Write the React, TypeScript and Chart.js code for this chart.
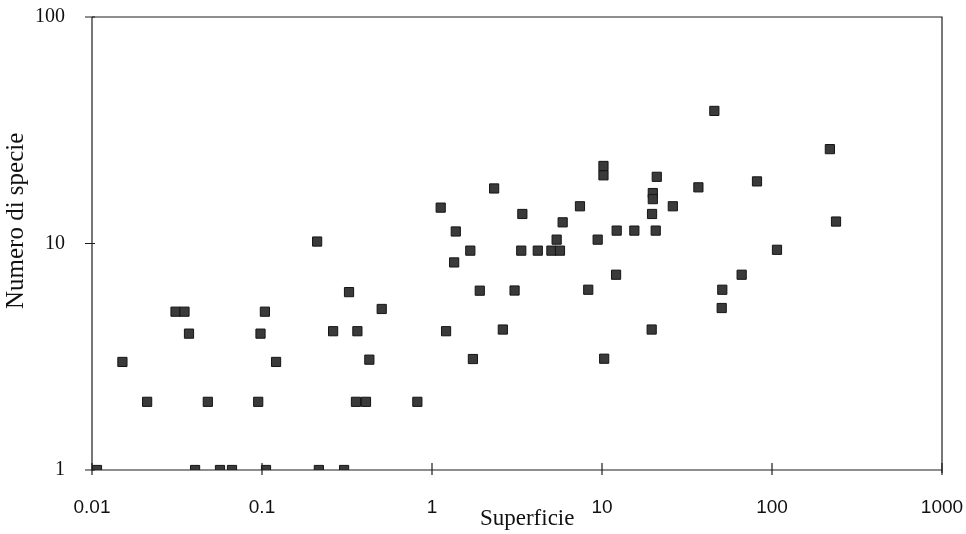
import React, { useEffect, useRef } from "react";
import { Chart, registerables } from "chart.js";

Chart.register(...registerables);

const xValues: number[] = [
  0.0107, 0.0151, 0.0211, 0.031, 0.035, 0.0372, 0.0404, 0.048, 0.0566, 0.0666,
  0.095, 0.098, 0.104, 0.1056, 0.121, 0.211, 0.216, 0.262, 0.304, 0.325,
  0.364, 0.357, 0.409, 0.428, 0.506, 0.82,
  1.125, 1.21, 1.35, 1.38, 1.68, 1.74, 1.91, 2.32, 2.61, 3.06,
  3.35, 3.4, 4.19, 5.04, 5.41, 5.66, 5.87, 7.42, 8.3, 9.43,
  10.2, 10.2, 10.3, 12.1, 12.2, 15.5, 19.6, 19.7, 19.9, 19.9,
  20.7, 21.0, 26.1, 36.9, 45.8, 50.6, 51, 66.3, 81.6, 107,
  219, 238,
];

const yValues: number[] = [
  1, 3, 2, 5, 5, 4, 1, 2, 1, 1,
  2, 4, 5, 1, 3, 10.2, 1, 4.1, 1, 6.1,
  4.1, 2, 2, 3.07, 5.14, 2,
  14.4, 4.1, 8.25, 11.3, 9.3, 3.09, 6.19, 17.5, 4.17, 6.2,
  9.3, 13.5, 9.3, 9.3, 10.4, 9.3, 12.4, 14.6, 6.25, 10.4,
  22, 20, 3.1, 7.28, 11.4, 11.4, 4.17, 13.5, 16.7, 15.7,
  11.4, 19.7, 14.6, 17.7, 38.5, 5.19, 6.25, 7.28, 18.8, 9.38,
  26.1, 12.5,
];

const xTickValues: number[] = [0.01, 0.1, 1, 10, 100, 1000];
const xTickLabels: string[] = ["0.01", "0.1", "1", "10", "100", "1000"];
const yTickValues: number[] = [1, 10, 100];
const yTickLabels: string[] = ["1", "10", "100"];

const xTitle = "Superficie";
const yTitle = "Numero di specie";

const framePlugin = {
  id: "frameTicks",
  afterDraw(chart: any) {
    const { ctx, chartArea, scales } = chart;
    const { left, right, top, bottom } = chartArea;
    ctx.save();
    ctx.strokeStyle = "#1e1e1e";
    ctx.lineWidth = 1.2;
    ctx.beginPath();
    ctx.moveTo(left, top);
    ctx.lineTo(right, top);
    ctx.lineTo(right, bottom + 3);
    ctx.moveTo(left, top);
    ctx.lineTo(left, bottom);
    ctx.lineTo(right, bottom);
    ctx.stroke();
    ctx.beginPath();
    xTickValues.forEach((v) => {
      const px = scales.x.getPixelForValue(v);
      ctx.moveTo(px, bottom - 7);
      ctx.lineTo(px, bottom + 5);
    });
    yTickValues.forEach((v) => {
      const py = scales.y.getPixelForValue(v);
      ctx.moveTo(left - 7, py);
      ctx.lineTo(left + 3, py);
    });
    ctx.stroke();

    // axis titles
    ctx.fillStyle = "#111";
    ctx.textAlign = "center";
    ctx.textBaseline = "middle";
    ctx.font = "23px 'Liberation Serif'";
    const w = right - left;
    ctx.fillText(xTitle, left + w * 0.512, bottom + 49);
    ctx.translate(16, top + (bottom - top) * 0.45);
    ctx.rotate(-Math.PI / 2);
    ctx.font = "25px 'Liberation Serif'";
    ctx.fillText(yTitle, 0, 0);
    ctx.restore();
  },
};

export default function App() {
  const canvasRef = useRef<HTMLCanvasElement | null>(null);

  useEffect(() => {
    if (!canvasRef.current) return;
    const points = xValues.map((x, i) => ({ x, y: yValues[i] }));
    const chart = new Chart(canvasRef.current, {
      type: "scatter",
      data: {
        datasets: [
          {
            data: points,
            pointStyle: "rect",
            pointRadius: 6.5,
            pointHoverRadius: 6.5,
            backgroundColor: "#3a3a3a",
            borderColor: "#151515",
            borderWidth: 1,
          },
        ],
      },
      options: {
        animation: false,
        responsive: false,
        layout: { padding: { top: 17, right: 24, left: 0, bottom: 0 } },
        plugins: {
          legend: { display: false },
          tooltip: { enabled: false },
        },
        scales: {
          x: {
            type: "logarithmic",
            min: 0.01,
            max: 1000,
            grid: { display: false, drawTicks: false },
            border: { display: false },
            afterBuildTicks: (scale: any) => {
              scale.ticks = xTickValues.map((v) => ({ value: v }));
            },
            afterFit: (scale: any) => {
              scale.height = 64;
              scale.paddingLeft = 0;
              scale.paddingRight = 0;
            },
            ticks: {
              autoSkip: false,
              maxRotation: 0,
              padding: 26,
              color: "#111",
              font: { family: "Liberation Sans", size: 19 },
              callback: (value: any) => {
                const i = xTickValues.indexOf(Number(value));
                return i >= 0 ? xTickLabels[i] : "";
              },
            },
            title: { display: false },
          },
          y: {
            type: "logarithmic",
            min: 1,
            max: 100,
            grid: { display: false, drawTicks: false },
            border: { display: false },
            afterBuildTicks: (scale: any) => {
              scale.ticks = yTickValues.map((v) => ({ value: v }));
            },
            afterFit: (scale: any) => {
              scale.width = 92;
              scale.paddingTop = 0;
              scale.paddingBottom = 0;
            },
            ticks: {
              autoSkip: false,
              padding: 27,
              color: "#111",
              font: { family: "Liberation Serif", size: 20 },
              callback: (value: any) => {
                const i = yTickValues.indexOf(Number(value));
                return i >= 0 ? yTickLabels[i] : "";
              },
            },
            title: { display: false },
          },
        },
      },
      plugins: [framePlugin],
    });
    return () => chart.destroy();
  }, []);

  return (
    <div style={{ position: "fixed", left: 0, top: 0, width: 966, height: 534, background: "#fff" }}>
      <canvas ref={canvasRef} width={966} height={534} style={{ display: "block" }} />
    </div>
  );
}
